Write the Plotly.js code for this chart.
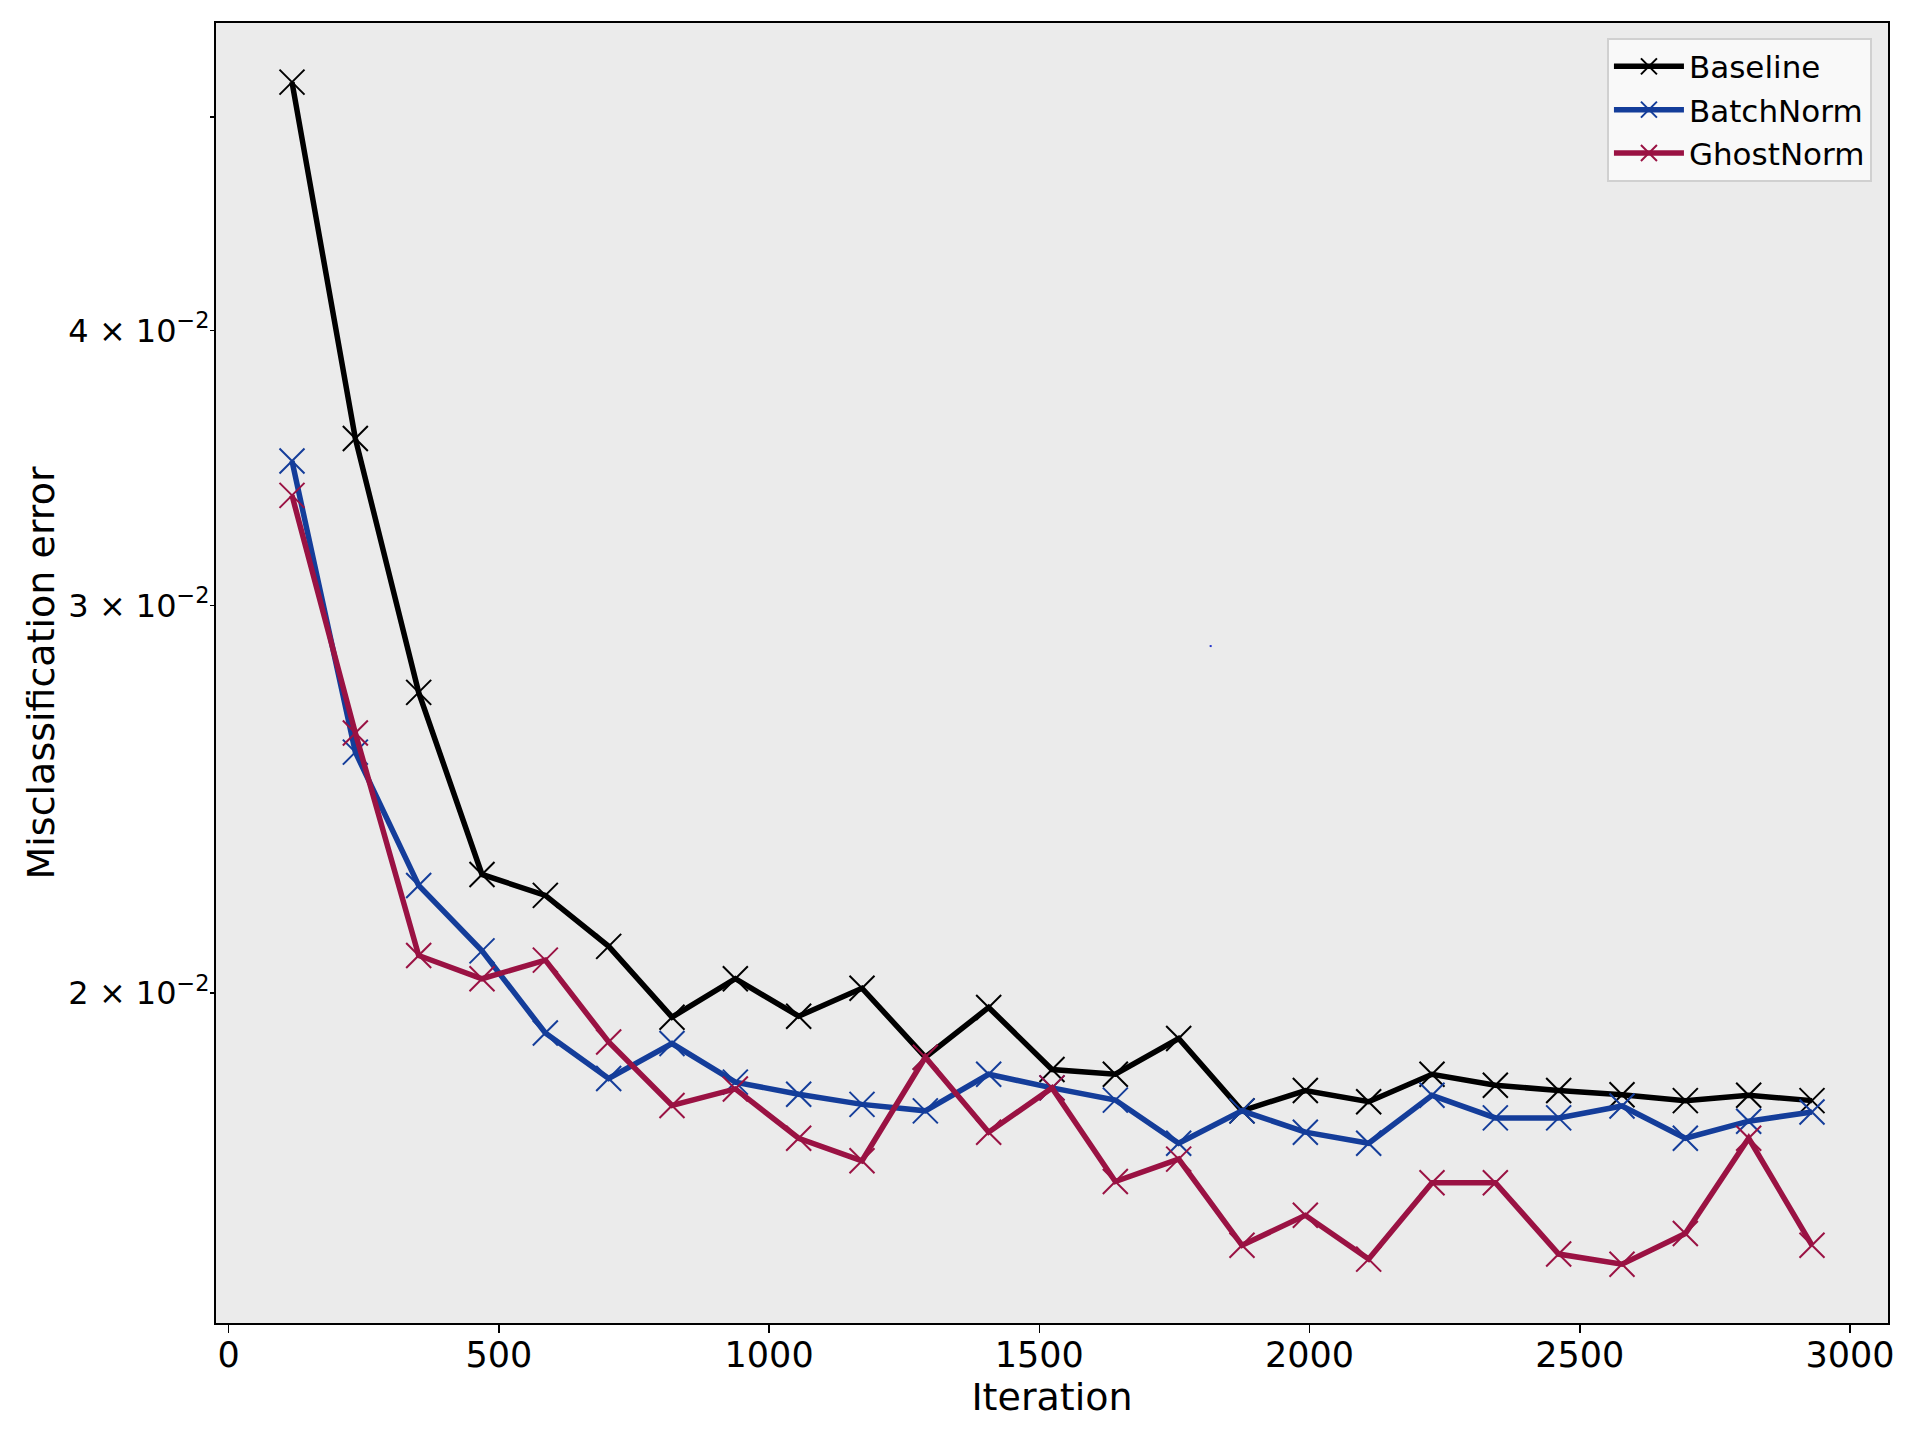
<!DOCTYPE html>
<html>
<head>
<meta charset="utf-8">
<script src="https://cdn.plot.ly/plotly-3.0.1.min.js"></script>
<style>html,body{margin:0;padding:0;background:#fff;}#chart{width:1920px;height:1440px;}</style>
</head>
<body>
<div id="chart"></div>
<script>
// Iterations (one evaluation per epoch-like step of 117.1875 iterations)
const iterations = [117.1875, 234.375, 351.5625, 468.75, 585.9375, 703.125, 820.3125, 937.5, 1054.6875, 1171.875,
  1289.0625, 1406.25, 1523.4375, 1640.625, 1757.8125, 1875, 1992.1875, 2109.375, 2226.5625, 2343.75,
  2460.9375, 2578.125, 2695.3125, 2812.5, 2929.6875];

const baseline = [0.05186, 0.03572, 0.02739, 0.02264, 0.02215, 0.02100, 0.01950, 0.02030, 0.01952, 0.02010,
  0.01870, 0.01970, 0.01846, 0.01837, 0.01907, 0.01768, 0.01806, 0.01785, 0.01837, 0.01816,
  0.01806, 0.01798, 0.01787, 0.01797, 0.01787];

const batchNorm = [0.03489, 0.02573, 0.02238, 0.02090, 0.01918, 0.01829, 0.01897, 0.01822, 0.01799, 0.01780,
  0.01768, 0.01837, 0.01811, 0.01788, 0.01709, 0.01768, 0.01729, 0.01709, 0.01797, 0.01755,
  0.01755, 0.01777, 0.01718, 0.01749, 0.01766];

const ghostNorm = [0.03366, 0.02625, 0.02080, 0.02030, 0.02070, 0.01900, 0.01778, 0.01809, 0.01718, 0.01678,
  0.01870, 0.01729, 0.01811, 0.01642, 0.01681, 0.01536, 0.01585, 0.01514, 0.01640, 0.01640,
  0.01522, 0.01506, 0.01555, 0.01718, 0.01536];

const seriesNames = ["Baseline", "BatchNorm", "GhostNorm"];
const seriesColors = ["#000000", "#143d9a", "#9a1243"];

// stray dot visible in the reference
const strayX = [1817];
const strayY = [0.02875];

const yTickVals = [0.02, 0.03, 0.04, 0.05];
const yTickText = ["2 × 10<sup>−2</sup>", "3 × 10<sup>−2</sup>", "4 × 10<sup>−2</sup>", ""];
const xTickVals = [0, 500, 1000, 1500, 2000, 2500, 3000];

const FONT = "DejaVu Sans, Liberation Sans, sans-serif";

const allY = [baseline, batchNorm, ghostNorm];
const traces = allY.map((ys, i) => ({
  type: "scatter",
  mode: "lines+markers",
  name: seriesNames[i],
  x: iterations,
  y: ys,
  line: {color: seriesColors[i], width: 5.5},
  marker: {symbol: "x-thin-open", size: 25, color: seriesColors[i], line: {color: seriesColors[i], width: 2}}
}));
traces.push({
  type: "scatter", mode: "markers", x: strayX, y: strayY, showlegend: false, hoverinfo: "skip",
  marker: {symbol: "square", size: 2, color: "#2233cc"}
});

const layout = {
  width: 1920, height: 1440,
  paper_bgcolor: "#ffffff",
  plot_bgcolor: "#ebebeb",
  margin: {l: 216, r: 32, t: 23, b: 117, pad: 0},
  font: {family: FONT, color: "#000000"},
  showlegend: true,
  legend: {
    x: 0.9904, y: 0.9887, xanchor: "right", yanchor: "top",
    bgcolor: "rgba(251,251,251,0.9)", bordercolor: "#d0d0d0", borderwidth: 2,
    itemwidth: 70,
    font: {family: FONT, size: 31, color: "#000000"}
  },
  xaxis: {
    range: [-23.44, 3070.3],
    tickvals: xTickVals,
    ticks: "outside", ticklen: 8, tickwidth: 1.5, tickcolor: "#000",
    ticklabelstandoff: -8,
    showgrid: false, zeroline: false,
    showline: true, linecolor: "#000", linewidth: 2, mirror: true,
    tickfont: {family: FONT, size: 35},
    title: {text: "Iteration", font: {family: FONT, size: 38}, standoff: 4}
  },
  yaxis: {
    type: "log",
    range: [-1.8489, -1.2583],
    tickvals: yTickVals, ticktext: yTickText,
    ticks: "outside", ticklen: 4, tickwidth: 1.5, tickcolor: "#000",
    ticklabelstandoff: -6,
    showgrid: false, zeroline: false,
    showline: true, linecolor: "#000", linewidth: 2, mirror: true,
    tickfont: {family: FONT, size: 32},
    title: {text: "Misclassification error", font: {family: FONT, size: 38}, standoff: 2}
  }
};

Plotly.newPlot("chart", traces, layout, {displayModeBar: false, staticPlot: true});
</script>
</body>
</html>
